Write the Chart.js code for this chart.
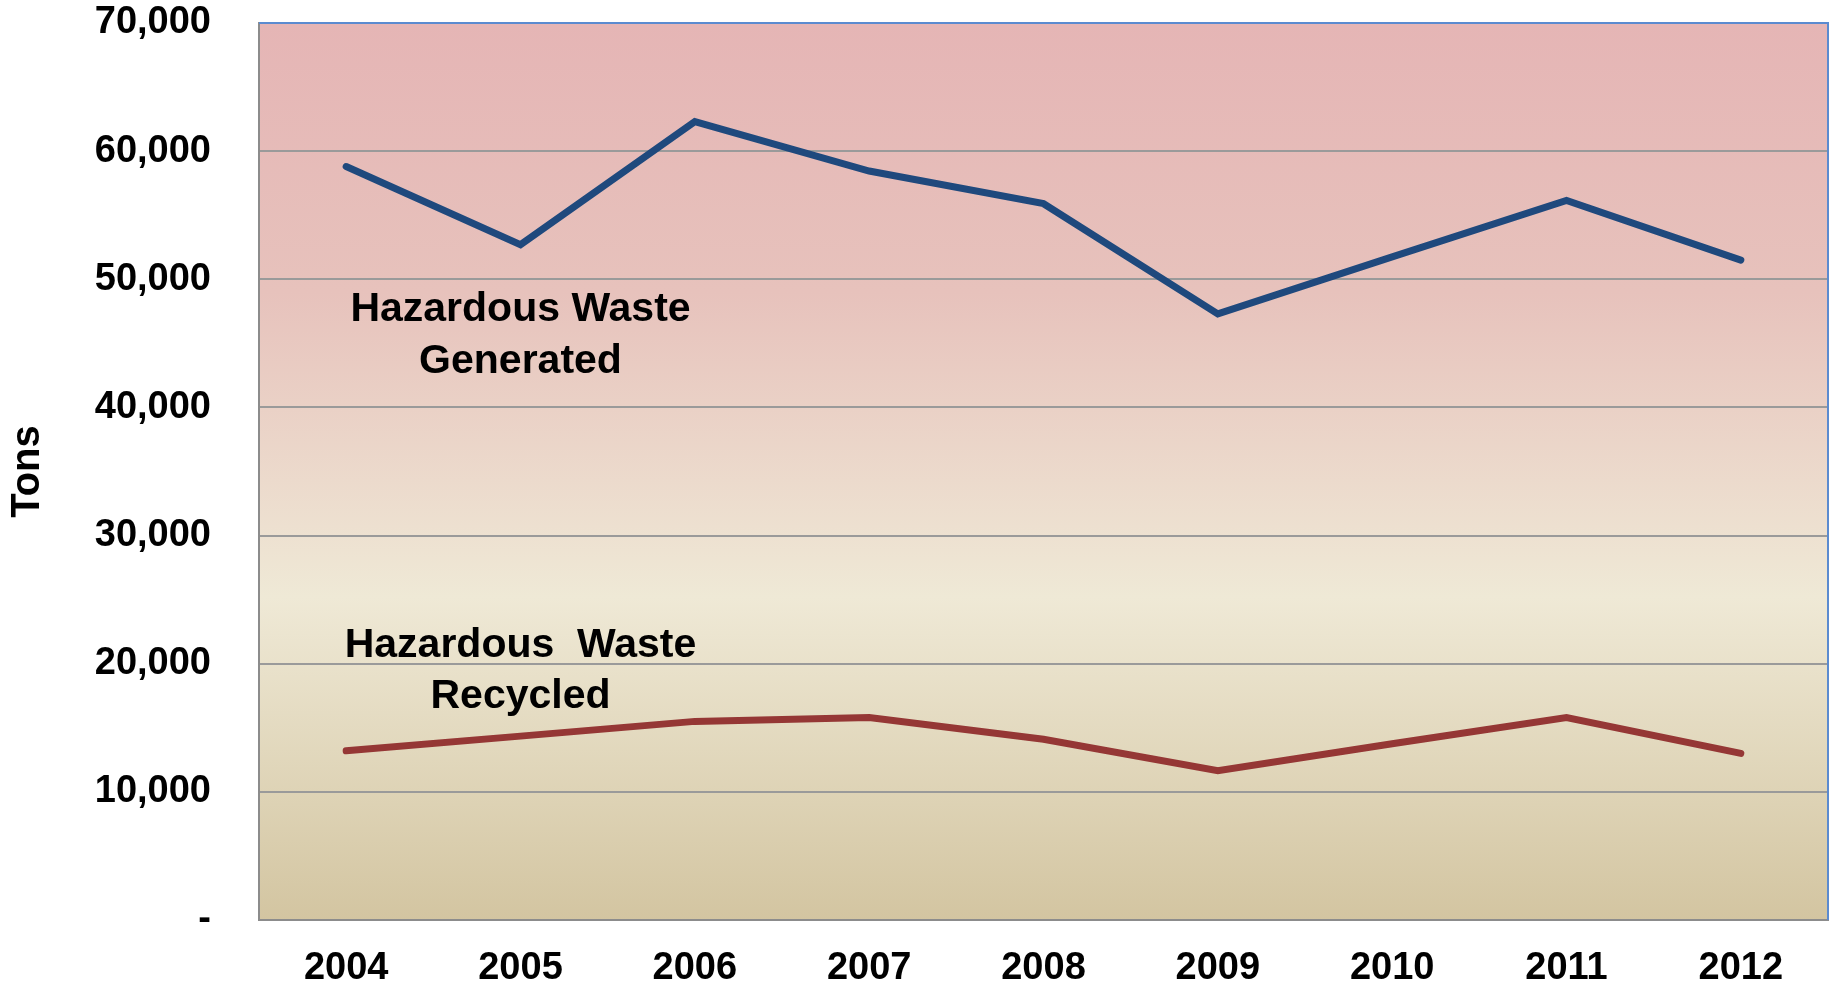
<!DOCTYPE html>
<html>
<head>
<meta charset="utf-8">
<script src="https://cdn.jsdelivr.net/npm/chart.js@4.4.1/dist/chart.umd.min.js"></script>
<style>
  html, body { margin: 0; padding: 0; background: #fff; }
  #wrap { width: 1834px; height: 987px; }
</style>
</head>
<body>
<div id="wrap"><canvas id="grafica"></canvas></div>
<script>
const years = ['2004', '2005', '2006', '2007', '2008', '2009', '2010', '2011', '2012'];
const generated = [58800, 52700, 62300, 58450, 55900, 47300, 51750, 56150, 51500];
const recycled = [13200, 14350, 15500, 15800, 14100, 11650, 13750, 15800, 13000];

const yMin = 0;
const yMax = 70000;
const yStep = 10000;

// in-chart labels, placed in data units (category index, value)
const generatedNote = ['Hazardous Waste', 'Generated'];
const generatedNoteAt = [1, 47600, 43600];
const recycledNote = ['Hazardous  Waste', 'Recycled'];
const recycledNoteAt = [1, 21400, 17400];

const colors = ['#1f497d', '#953735'];
const fontFamily = '"Liberation Sans", Arial, sans-serif';

const graph = document.querySelector('#grafica');

const plotBg = {
    id: 'plotBg',
    beforeDraw(chart) {
        const { ctx, chartArea: a } = chart;
        const g = ctx.createLinearGradient(0, a.top, 0, a.bottom);
        g.addColorStop(0, '#e5b5b5');
        g.addColorStop(0.3, '#e7c2bc');
        g.addColorStop(0.64, '#efe9d6');
        g.addColorStop(1, '#d3c5a1');
        ctx.save();
        ctx.fillStyle = g;
        ctx.fillRect(a.left, a.top, a.right - a.left, a.bottom - a.top);
        ctx.restore();
    }
};

const frame = {
    id: 'frame',
    afterDraw(chart) {
        const { ctx, chartArea: a } = chart;
        ctx.save();
        ctx.strokeStyle = '#5b8bd0';
        ctx.lineWidth = 2;
        ctx.beginPath();
        ctx.moveTo(a.left, a.top);
        ctx.lineTo(a.right, a.top);
        ctx.lineTo(a.right, a.bottom);
        ctx.stroke();
        ctx.restore();
    }
};

const notes = {
    id: 'notes',
    afterDatasetsDraw(chart) {
        const { ctx, scales } = chart;
        ctx.save();
        ctx.fillStyle = '#000';
        ctx.font = 'bold 41px ' + fontFamily;
        ctx.textAlign = 'center';
        ctx.textBaseline = 'middle';
        [[generatedNote, generatedNoteAt], [recycledNote, recycledNoteAt]].forEach(([lines, at]) => {
            const x = scales.x.getPixelForValue(at[0]);
            lines.forEach((t, i) => ctx.fillText(t, x, scales.y.getPixelForValue(at[i + 1])));
        });
        ctx.restore();
    }
};

const data = {
    labels: years,
    datasets: [
        {
            label: 'Hazardous Waste Generated',
            data: generated,
            borderColor: colors[0],
            borderWidth: 7,
            borderCapStyle: 'round',
            borderJoinStyle: 'miter',
            pointRadius: 0,
            tension: 0
        },
        {
            label: 'Hazardous Waste Recycled',
            data: recycled,
            borderColor: colors[1],
            borderWidth: 7,
            borderCapStyle: 'round',
            borderJoinStyle: 'miter',
            pointRadius: 0,
            tension: 0
        }
    ]
};

const config = {
    type: 'line',
    data: data,
    plugins: [plotBg, frame, notes],
    options: {
        responsive: true,
        maintainAspectRatio: false,
        animation: false,
        layout: { padding: { top: 23, right: 6, left: 0, bottom: 0 } },
        plugins: {
            legend: { display: false },
            tooltip: { enabled: false }
        },
        scales: {
            x: {
                offset: true,
                grid: { display: false, drawTicks: false, offset: true },
                border: { display: true, color: '#8c8c8c', width: 2 },
                ticks: {
                    color: '#000',
                    padding: 26,
                    maxRotation: 0,
                    font: { family: fontFamily, size: 38, weight: 'bold' }
                },
                afterFit(scale) {
                    scale.height = 67;
                    scale.paddingLeft = 0;
                    scale.paddingRight = 0;
                }
            },
            y: {
                min: yMin,
                max: yMax,
                grid: { color: '#9a9a9a', lineWidth: 2, drawTicks: false },
                border: { display: true, color: '#8c8c8c', width: 2 },
                ticks: {
                    stepSize: yStep,
                    color: '#000',
                    padding: 48,
                    font: { family: fontFamily, size: 38, weight: 'bold' },
                    callback: v => v === 0 ? '-' : v.toLocaleString('en-US')
                },
                title: {
                    display: true,
                    text: 'Tons',
                    color: '#000',
                    padding: { top: 4, bottom: 0 },
                    font: { family: fontFamily, size: 40, weight: 'bold' }
                },
                afterFit(scale) {
                    scale.width = 259;
                    scale.paddingTop = 0;
                    scale.paddingBottom = 0;
                }
            }
        }
    }
};

const myChart = new Chart(graph, config);
</script>
</body>
</html>
